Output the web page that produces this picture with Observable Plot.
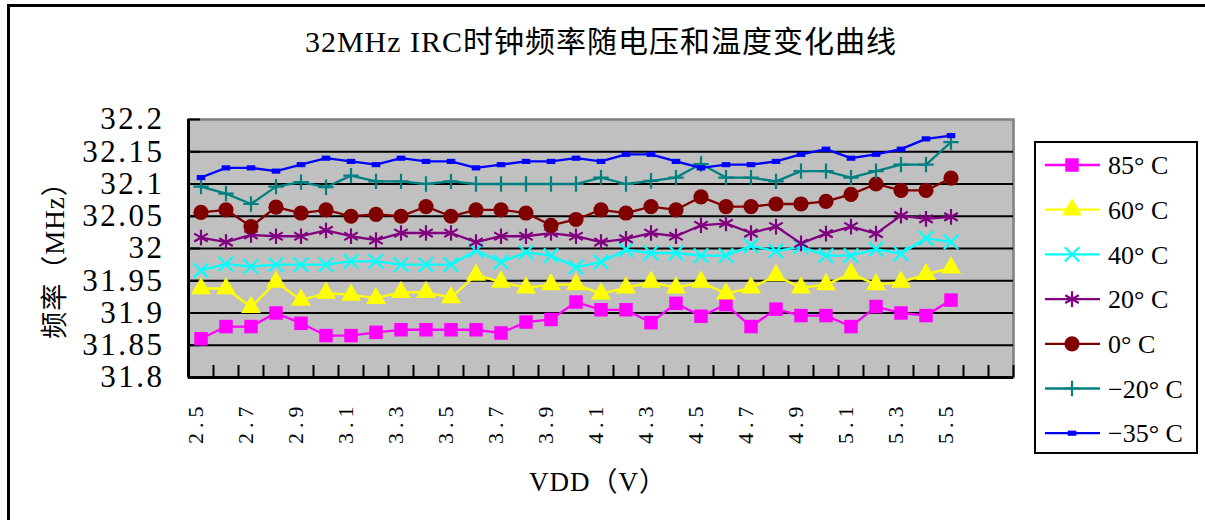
<!DOCTYPE html>
<html><head><meta charset="utf-8">
<script src="https://cdn.jsdelivr.net/npm/d3@7"></script>
<script src="https://cdn.jsdelivr.net/npm/@observablehq/plot@0.6"></script>
<style>
body{margin:0;background:#fff;}
#wrap{position:relative;width:1205px;height:520px;overflow:hidden;background:#fff;}
#wrap svg{position:absolute;left:0;top:0;}
</style></head><body><div id="wrap"></div>
<script>
const title = "32MHz IRC时钟频率随电压和温度变化曲线";
const xTitle = "VDD（V）";
const yTitle = "频率（MHz）";

const volts = [2.5,2.6,2.7,2.8,2.9,3.0,3.1,3.2,3.3,3.4,3.5,3.6,3.7,3.8,3.9,4.0,4.1,4.2,4.3,4.4,4.5,4.6,4.7,4.8,4.9,5.0,5.1,5.2,5.3,5.4,5.5];
const extraCategories = 2; // empty category slots after 5.5
const xTickLabels = [2.5,2.7,2.9,3.1,3.3,3.5,3.7,3.9,4.1,4.3,4.5,4.7,4.9,5.1,5.3,5.5];
const yTicks = [31.8,31.85,31.9,31.95,32.0,32.05,32.1,32.15,32.2];

const seriesNames = ["85° C","60° C","40° C","20° C","0° C","−20° C","−35° C"];
const seriesColors = ["#FF00FF","#FFFF00","#00FFFF","#800080","#800000","#008080","#0000FF"];

const f85  = [31.860,31.879,31.879,31.900,31.884,31.865,31.865,31.870,31.874,31.874,31.874,31.874,31.869,31.886,31.890,31.917,31.905,31.905,31.885,31.915,31.895,31.913,31.879,31.906,31.896,31.896,31.879,31.910,31.900,31.896,31.920];
const f60  = [31.938,31.938,31.909,31.948,31.920,31.931,31.928,31.923,31.932,31.932,31.924,31.959,31.948,31.939,31.944,31.944,31.930,31.939,31.948,31.939,31.948,31.930,31.939,31.958,31.939,31.944,31.961,31.944,31.948,31.960,31.970];
const f40  = [31.966,31.976,31.972,31.975,31.975,31.975,31.980,31.980,31.975,31.975,31.975,31.997,31.979,31.994,31.989,31.971,31.979,31.998,31.993,31.993,31.989,31.989,32.004,31.996,32.003,31.989,31.989,31.999,31.992,32.016,32.010];
const f20  = [32.017,32.010,32.021,32.019,32.019,32.028,32.019,32.013,32.024,32.024,32.024,32.010,32.019,32.019,32.024,32.019,32.010,32.015,32.024,32.019,32.036,32.039,32.024,32.034,32.008,32.023,32.034,32.023,32.051,32.046,32.049];
const f0   = [32.056,32.060,32.034,32.064,32.055,32.060,32.050,32.053,32.050,32.065,32.050,32.060,32.060,32.055,32.036,32.045,32.060,32.055,32.065,32.060,32.080,32.065,32.065,32.069,32.069,32.073,32.084,32.100,32.090,32.090,32.109];
const fm20 = [32.096,32.085,32.069,32.096,32.103,32.095,32.113,32.104,32.104,32.100,32.104,32.100,32.100,32.100,32.100,32.100,32.110,32.100,32.105,32.110,32.131,32.110,32.110,32.104,32.120,32.120,32.110,32.120,32.130,32.130,32.165];
const fm35 = [32.110,32.125,32.125,32.120,32.130,32.140,32.135,32.130,32.140,32.135,32.135,32.125,32.130,32.135,32.135,32.140,32.135,32.146,32.146,32.135,32.125,32.130,32.130,32.135,32.146,32.154,32.140,32.146,32.154,32.170,32.175];

const seriesValues = [f85,f60,f40,f20,f0,fm20,fm35];

// marker styles
const smallRect = {draw(ctx, size){const s=Math.sqrt(size); ctx.rect(-s*0.55,-s*0.33,s*1.1,s*0.66);}};
const markers = [
  {symbol:"square", r:7.6, filled:true},
  {symbol:"triangle", r:7.4, filled:true},
  {symbol:"times", r:6.6, filled:false},
  {symbol:"asterisk", r:7.4, filled:false},
  {symbol:"circle", r:7.6, filled:true},
  {symbol:"plus", r:5.0, filled:false},
  {symbol:smallRect, r:4.4, filled:true}
];

const W = 1205, H = 520;
const mL = 188, mR = 192, mT = 119, mB = 143;
const step = volts[1]-volts[0];
const xEdges = d3.range(volts.length + extraCategories + 1).map(k => +(volts[0] - step/2 + k*step).toFixed(3));
const xDomain = [xEdges[0], xEdges[xEdges.length-1]];
const yDomain = [yTicks[0], yTicks[yTicks.length-1]];
const innerW = W-mL-mR, innerH = H-mT-mB;
const tickLenY = (yDomain[1]-yDomain[0])*12/innerH;
const tickLenX = (xDomain[1]-xDomain[0])*12/innerW;
const FONT = "Liberation Serif, Noto Sans CJK SC, serif";

const marks = [
  Plot.frame({fill:"#C0C0C0"}),
  Plot.frame({stroke:"#808080", strokeWidth:2.5}),
  Plot.ruleY(yTicks.slice(1,-1), {stroke:"#000", strokeWidth:2}),
  Plot.ruleX(xEdges, {x:d=>d, y1:yDomain[0], y2:yDomain[0]+tickLenY, stroke:"#000", strokeWidth:2}),
  Plot.ruleY(yTicks, {y:d=>d, x1:xDomain[0], x2:xDomain[0]+tickLenX, stroke:"#000", strokeWidth:2}),
  Plot.ruleX([xDomain[0]], {stroke:"#000", strokeWidth:3}),
  Plot.ruleY([yDomain[0]], {stroke:"#000", strokeWidth:3}),
];

seriesValues.forEach((vals, i) => {
  const rows = vals.map((f, j) => ({v: volts[j], f, s: seriesNames[i]}));
  const m = markers[i];
  marks.push(Plot.line(rows, {x:"v", y:"f", stroke:seriesColors[i], strokeWidth:2.3}));
  marks.push(Plot.dot(rows, {x:"v", y:"f", symbol:m.symbol, r:m.r,
    fill: m.filled ? seriesColors[i] : "none",
    stroke: m.filled ? "none" : seriesColors[i], strokeWidth: 2.2}));
});

marks.push(
  Plot.axisY(yTicks, {anchor:"left", tickSize:0, tickPadding:24, fontSize:31, fontFamily:FONT, tickFormat:d=>String(+d.toFixed(2)), label:null}),
  Plot.axisX(xTickLabels, {anchor:"bottom", tickSize:0, tickPadding:24, tickRotate:-90, fontSize:22, fontFamily:FONT, tickFormat:d=>d.toFixed(1), label:null, dx:-5}),
  Plot.text([title], {frameAnchor:"top", lineAnchor:"middle", textAnchor:"middle", dy:-77, fontSize:30, fontFamily:FONT, fill:"#000"}),
  Plot.text([xTitle], {frameAnchor:"bottom", lineAnchor:"middle", textAnchor:"middle", dy:105, dx:-3, fontSize:27, fontFamily:FONT, fill:"#000"}),
  Plot.text([yTitle], {frameAnchor:"left", lineAnchor:"middle", textAnchor:"middle", dx:-133, dy:5, rotate:-90, fontSize:27, fontFamily:FONT, fill:"#000"})
);

const chart = Plot.plot({
  width:W, height:H,
  marginLeft:mL, marginRight:mR, marginTop:mT, marginBottom:mB,
  x:{type:"linear", domain:xDomain, axis:null},
  y:{type:"linear", domain:yDomain, axis:null},
  style:{fontFamily:FONT, background:"transparent", color:"#000", overflow:"visible"},
  marks
});
const wrap = document.getElementById("wrap");
wrap.appendChild(chart);

// letter spacing for tick labels (SimSun-like wide spacing)
d3.select(chart).selectAll('g[aria-label="y-axis tick label"]').style("letter-spacing","2.5px").style("font-variant","normal");
d3.select(chart).selectAll('g[aria-label="x-axis tick label"]').style("letter-spacing","5px").style("font-variant","normal");
d3.select(chart).selectAll('g[aria-label="text"] text').style("letter-spacing","1px");

// overlay: chart border and legend
const ov = d3.select(wrap).append("svg").attr("width",W).attr("height",H).style("font-family",FONT);
ov.append("rect").attr("x",8.5).attr("y",5.5).attr("width",W).attr("height",H).attr("fill","none").attr("stroke","#000").attr("stroke-width",3);

const lg = {x:1035, y:142, w:162, h:311, first:165, gap:44.7};
ov.append("rect").attr("x",lg.x).attr("y",lg.y).attr("width",lg.w).attr("height",lg.h).attr("fill","#fff").attr("stroke","#000").attr("stroke-width",2);
const d3sym = {square:d3.symbolSquare, triangle:d3.symbolTriangle, times:d3.symbolTimes, asterisk:d3.symbolAsterisk, circle:d3.symbolCircle, plus:d3.symbolPlus};
seriesNames.forEach((name, i) => {
  const cy = lg.first + i*lg.gap;
  const m = markers[i];
  const g = ov.append("g");
  g.append("line").attr("x1",lg.x+10).attr("x2",lg.x+65).attr("y1",cy).attr("y2",cy).attr("stroke",seriesColors[i]).attr("stroke-width",2.3);
  const type = typeof m.symbol === "string" ? d3sym[m.symbol] : m.symbol;
  g.append("path").attr("transform",`translate(${lg.x+37},${cy})`)
    .attr("d", d3.symbol(type, Math.PI*m.r*m.r)())
    .attr("fill", m.filled ? seriesColors[i] : "none")
    .attr("stroke", m.filled ? "none" : seriesColors[i]).attr("stroke-width",2.2);
  g.append("text").attr("x",lg.x+73).attr("y",cy).attr("dy","0.35em").attr("font-size",26).text(name);
});
</script></body></html>
